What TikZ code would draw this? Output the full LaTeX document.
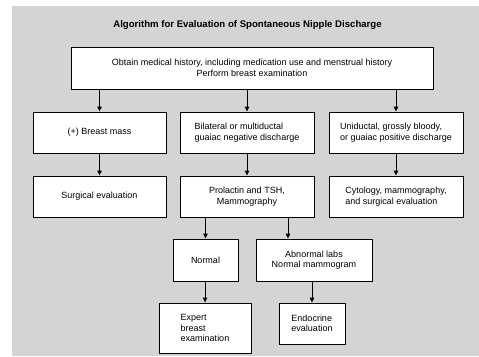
\documentclass[tikz,border=0pt]{standalone}
\usepackage{fontspec}
\setmainfont{Liberation Sans}
\usetikzlibrary{arrows.meta}
\definecolor{bggray}{RGB}{212,212,212}
\begin{document}
\begin{tikzpicture}[x=1pt,y=-1pt,
  box/.style={draw=black,line width=0.9pt,fill=white,inner sep=2pt,font=\fontsize{9}{10.5}\selectfont},
  arr/.style={line width=0.9pt,-{Triangle[length=5pt,width=4.5pt]}},
  ln/.style={line width=0.9pt}]
\useasboundingbox (0,0) rectangle (479,356);
\fill[bggray] (12,6) rectangle (479,356);
\node[font=\bfseries\fontsize{9.6}{10}\selectfont] (title) at (247.5,25) {Algorithm for Evaluation of Spontaneous Nipple Discharge};
\node[box,minimum width=362pt,minimum height=42pt,align=center] (top) at (252,68)
  {Obtain medical history, including medication use and menstrual history\\Perform breast examination};
\node[box,minimum width=133pt,minimum height=41pt,align=center] (b1) at (99.5,132.5) {(+) Breast mass};
\node[box,minimum width=134pt,minimum height=41pt,align=left] (b2) at (247,132.5) {Bilateral or multiductal\\guaiac negative discharge};
\node[box,minimum width=134pt,minimum height=41pt,align=left] (b3) at (396,132.5) {Uniductal, grossly bloody,\\or guaiac positive discharge};
\node[box,minimum width=133pt,minimum height=41pt,align=center] (c1) at (99.5,196.5) {Surgical evaluation};
\node[box,minimum width=134pt,minimum height=41pt,align=center] (c2) at (247,196.5) {Prolactin and TSH,\\Mammography};
\node[box,minimum width=134pt,minimum height=41pt,align=left] (c3) at (396,196.5) {Cytology, mammography,\\and surgical evaluation};
\node[box,minimum width=65pt,minimum height=42pt,align=center] (n) at (205.5,260) {Normal};
\node[box,minimum width=116pt,minimum height=42pt,align=center] (ab) at (314,260) {Abnormal labs\\Normal mammogram};
\node[box,minimum width=92pt,minimum height=50pt,align=left] (ex) at (205,328) {Expert\\breast\\examination};
\node[box,minimum width=66pt,minimum height=41pt,align=left] (en) at (312,323.5) {Endocrine\\evaluation};
\coordinate (pa) at (288,217);
\draw[arr] (b1.north |- top.south) -- (b1.north);
\draw[arr] (b2.north |- top.south) -- (b2.north);
\draw[arr] (b3.north |- top.south) -- (b3.north);
\draw[arr] (b1) -- (c1);
\draw[arr] (b2) -- (c2);
\draw[arr] (b3) -- (c3);
\draw[arr] (n.north |- c2.south) -- (n.north);
\draw[arr] (pa) -- (pa |- ab.north);
\draw[arr] (ex.north |- n.south) -- (ex.north);
\draw[arr] (en.north |- ab.south) -- (en.north);
\end{tikzpicture}
\end{document}
